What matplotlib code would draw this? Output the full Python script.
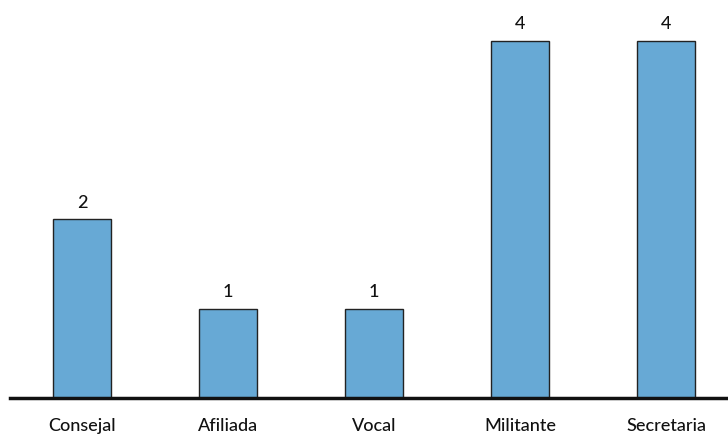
import matplotlib
matplotlib.use("Agg")
import matplotlib.pyplot as plt

categories = ["Consejal", "Afiliada", "Vocal", "Militante", "Secretaria"]
values = [2, 1, 1, 4, 4]

plt.rcParams['font.family'] = ['Lato', 'DejaVu Sans']

fig = plt.figure(figsize=(7.28, 4.35), dpi=100)
ax = fig.add_axes([10 / 728, 0.0828, 718 / 728, 0.9172])

x = list(range(len(categories)))
ax.bar(x, values, width=0.4, color="#67a9d5", edgecolor="#222222", linewidth=1.0, zorder=2)

for xi, v in zip(x, values):
    ax.annotate(str(v), (xi, v), xytext=(0, 7), textcoords="offset points",
                ha="center", va="bottom", fontsize=13, fontweight="medium", color="#111111")

ax.set_xlim(-0.493, 4.425)
ax.set_ylim(0, 4.47)
ax.set_xticks(x)
ax.set_xticklabels(categories, fontsize=13, fontweight="medium", color="#111111")
ax.tick_params(axis="x", length=0, pad=14)
ax.set_yticks([])
for s in ["top", "right", "left"]:
    ax.spines[s].set_visible(False)
ax.spines["bottom"].set_linewidth(2.5)
ax.spines["bottom"].set_color("#111111")
ax.spines["bottom"].set_zorder(3)

fig.savefig("out.png", dpi=100)
